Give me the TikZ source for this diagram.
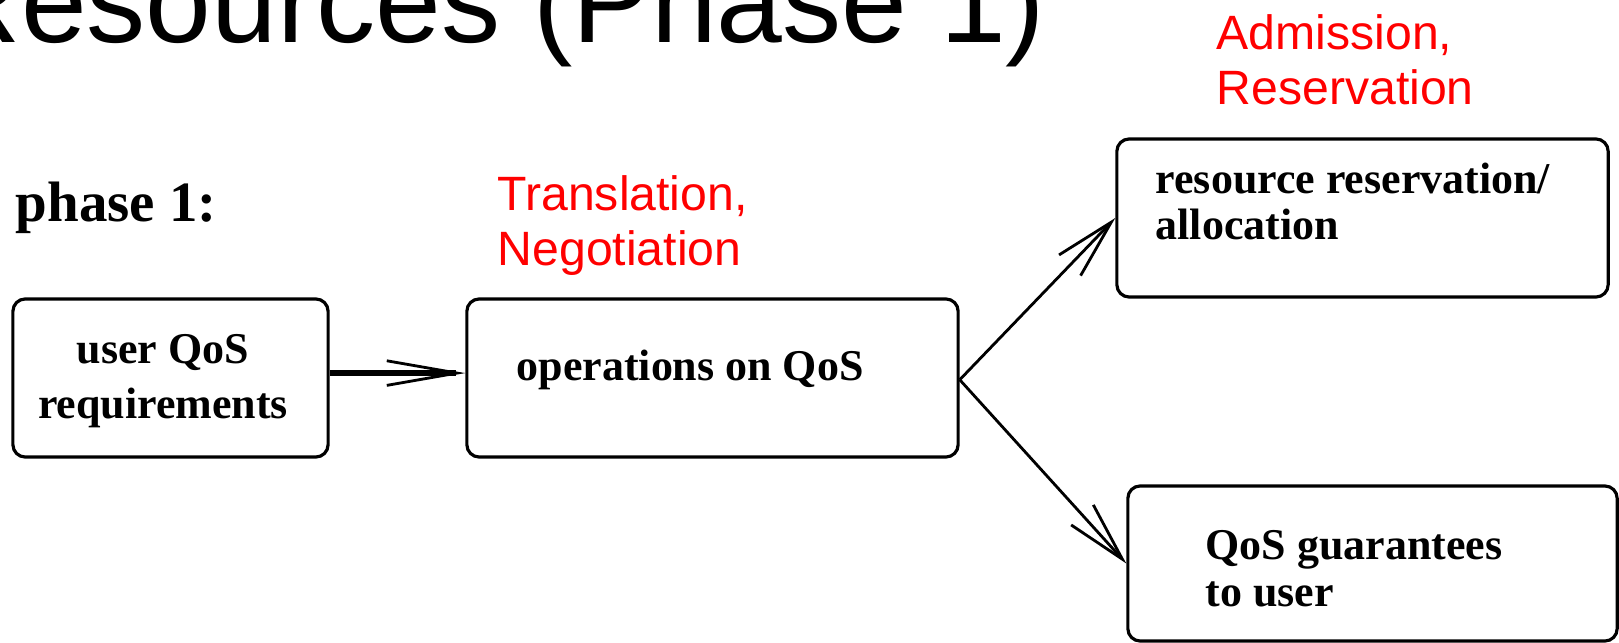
\documentclass[tikz,border=0pt]{standalone}
\usepackage{fontspec}
\setmainfont{Liberation Serif}
\newfontfamily\slidefont{Liberation Sans}
\usetikzlibrary{arrows.meta}
\begin{document}
\begin{tikzpicture}[x=0.01cm,y=-0.01cm,
  qbox/.style={draw,line width=0.9pt,rounded corners=3.5pt,inner sep=0pt},
  qtext/.style={anchor=base west,inner sep=0pt,align=left,font=\fontsize{12.5}{13.1}\selectfont\bfseries},
  redtext/.style={anchor=base west,inner sep=0pt,align=left,text=red,font=\slidefont\fontsize{13.7}{15.9}\selectfont},
  flow/.style={-{Straight Barb[length=17pt,width=8.5pt,line width=0.8pt]},line width=0.8pt}]
\useasboundingbox (0,0) rectangle (1619,643);
\clip (0,0) rectangle (1619,643);
\def\qbox#1#2#3#4#5{
\node[qbox,minimum width=#4cm,minimum height=#5cm] (#1) at (#2,#3) {};
}
\qbox{user}{170.5}{378}{3.15}{1.58}
\qbox{ops}{712.5}{378}{4.91}{1.58}
\qbox{resv}{1362.5}{218}{4.91}{1.58}
\qbox{guar}{1372.5}{563.5}{4.89}{1.55}
\node[anchor=base west,inner sep=0pt,font=\slidefont\fontsize{33.6}{40}\selectfont] (title) at (-65,43) {Resources (Phase 1)};
\node[qtext,font=\fontsize{16.2}{19}\selectfont\bfseries] (phase) at (15,222) {phase 1:};
\node[qtext,align=center,anchor=base,font=\fontsize{12.5}{15.6}\selectfont\bfseries] (usertxt) at (163,418) {user QoS\\requirements};
\node[qtext] (opstxt) at (516,380) {operations on QoS};
\node[qtext] (resvtxt) at (1155,240) {resource reservation/\\allocation};
\node[qtext] (guartxt) at (1205,606) {QoS guarantees\\to user};
\node[redtext] (negot) at (497,266) {Translation,\\Negotiation};
\node[redtext] (admit) at (1216,105) {Admission,\\Reservation};
\draw[flow,line width=1.7pt,-{Straight Barb[length=20pt,width=7pt,line width=0.8pt]}] ([yshift=1.4pt]user.east) -- ([yshift=1.4pt]ops.west);
\draw[flow] ([yshift=-0.5pt]ops.east) -- (resv.west);
\draw[flow] ([yshift=-0.5pt]ops.east) -- (guar.west);
\end{tikzpicture}
\end{document}
